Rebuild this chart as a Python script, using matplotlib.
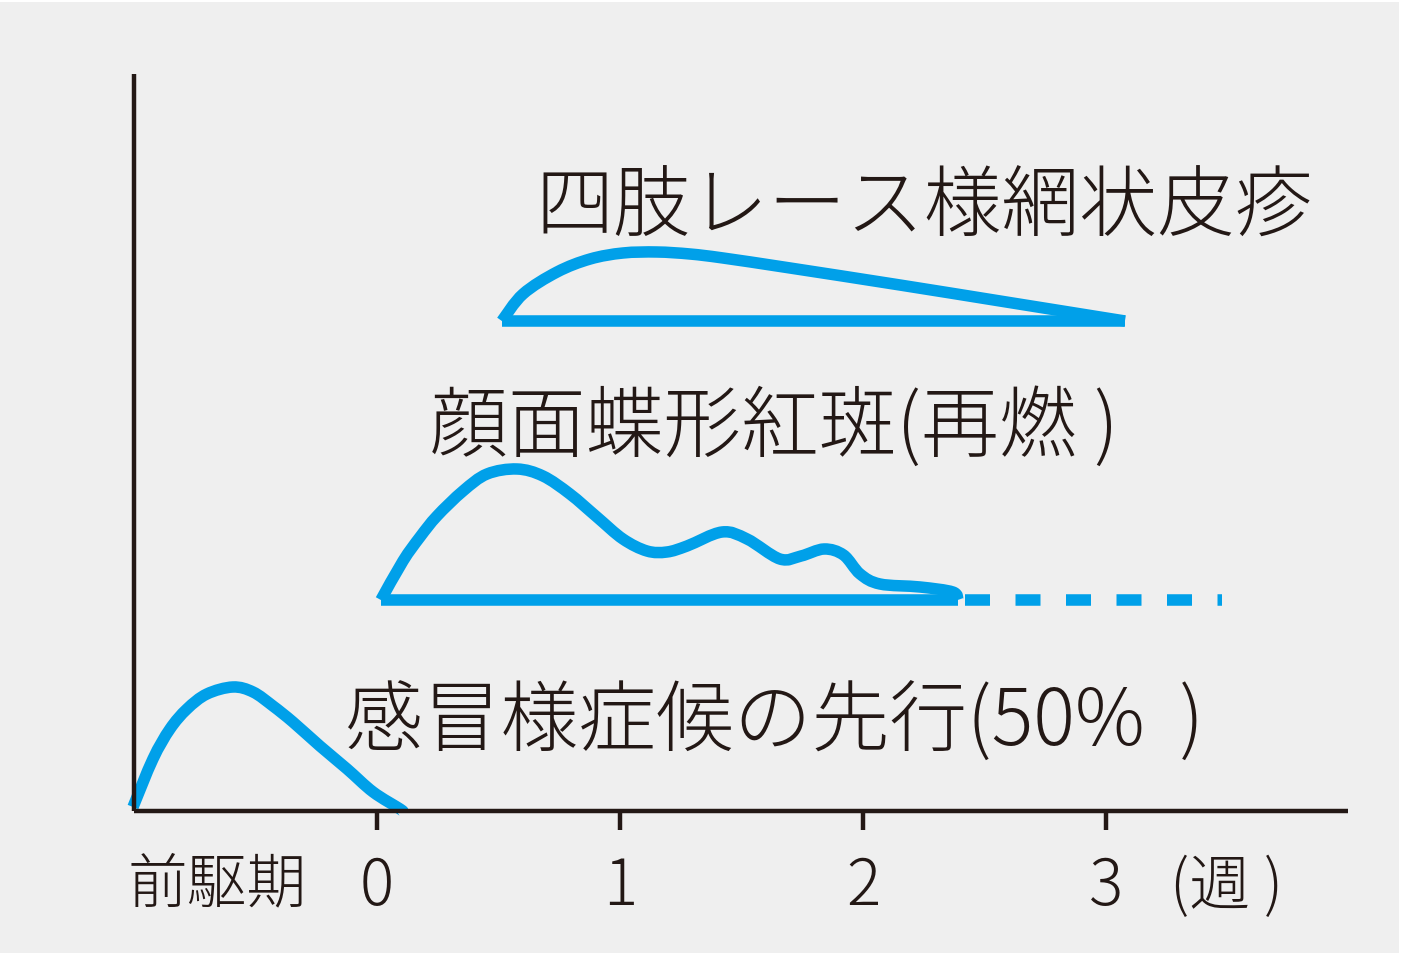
import matplotlib.pyplot as plt
from matplotlib.patches import Rectangle, PathPatch
from matplotlib.path import Path

plt.rcParams['font.family'] = ['Noto Sans CJK JP', 'DejaVu Sans']

#:::::::::::::::::::::::::::::::::::::::::::::::::::::::::::::::
#     :: Data :: (x in weeks, y = level in arbitrary units)

week_ticks = [0, 1, 2, 3]
week_labels = ['0', '1', '2', '3']

# prodromal cold-like symptoms
cold_x = [-1.004, -0.922, -0.852, -0.782, -0.700, -0.593, -0.510, -0.428,
          -0.346, -0.235, -0.123, -0.016, 0.095, 0.107]
cold_y = [4, 52, 82, 102, 117, 124, 119, 105, 89, 65, 42, 19, 2, -1]

# facial butterfly rash (relapse)
face_x = [0.016, 0.107, 0.177, 0.247, 0.354, 0.453, 0.576, 0.683, 0.794,
          0.905, 1.012, 1.111, 1.193, 1.276, 1.420, 1.523, 1.658, 1.745,
          1.840, 1.920, 1.988, 2.070, 2.235, 2.370, 2.390]
face_y = [211, 250, 274, 295, 320, 337, 342, 335, 317, 294, 272, 260, 259,
          265, 279, 272, 252, 255, 262, 256, 237, 227, 224, 219, 211]
face_base_x = [0.016, 2.39]
face_tail_x = [2.42, 3.477]
face_base_y = 211

# lace-like reticular rash on the limbs
limb_x = [0.514, 0.601, 0.741, 0.877, 1.012, 1.152, 1.288, 1.424,
          1.700, 2.152, 2.564, 2.975, 3.078]
limb_y = [490, 517, 539, 552, 558, 559, 557, 553, 543, 526, 510, 494, 490]
limb_base_x = [0.514, 3.078]
limb_base_y = 490

label_limb = '四肢レース様網状皮疹'
label_face = '顔面蝶形紅斑(再燃 )'
label_cold = '感冒様症候の先行(50%  )'
label_pro = '前駆期'
label_unit = '(週 )'

#:::::::::::::::::::::::::::::::::::::::::::::::::::::::::::::::
#     :: Plot ::

BLUE = '#00a0e9'
INK = '#231815'
LW = 8.3


def smooth_line(ax, xs, ys, **kw):
    # Catmull-Rom through the read points, drawn as cubic bezier pieces
    pts = list(zip(xs, ys))
    verts = [pts[0]]
    codes = [Path.MOVETO]
    n = len(pts)
    for i in range(n - 1):
        p0 = pts[max(i - 1, 0)]
        p1 = pts[i]
        p2 = pts[i + 1]
        p3 = pts[min(i + 2, n - 1)]
        c1 = (p1[0] + (p2[0] - p0[0]) / 6, p1[1] + (p2[1] - p0[1]) / 6)
        c2 = (p2[0] - (p3[0] - p1[0]) / 6, p2[1] - (p3[1] - p1[1]) / 6)
        verts += [c1, c2, p2]
        codes += [Path.CURVE4] * 3
    patch = PathPatch(Path(verts, codes), facecolor='none', edgecolor=BLUE,
                      lw=LW, capstyle='butt', joinstyle='round', **kw)
    ax.add_patch(patch)


fig = plt.figure(figsize=(14.05, 9.54), dpi=100, facecolor='white')
fig.add_artist(Rectangle((0.0, 0.0), 0.996, 0.997, transform=fig.transFigure,
                         facecolor='#efefef', edgecolor='none', zorder=-10))
ax = fig.add_axes([0, 0, 1, 1])
ax.set_xlim(-1.5514, 4.2305)
ax.set_ylim(-142, 812)
ax.axis('off')

# axes drawn by hand
ax.plot([-1.0, -1.0], [0, 737], color=INK, lw=3.2, solid_capstyle='butt')
ax.plot([-1.0, 3.996], [0, 0], color=INK, lw=3.2, solid_capstyle='butt')
for t, lab in zip(week_ticks, week_labels):
    ax.plot([t, t], [0, -19], color=INK, lw=3.2, solid_capstyle='butt')
    ax.text(t, -76, lab, ha='center', va='center', fontsize=46, color=INK,
            fontweight='light')
ax.text(-1.025, -74, label_pro, ha='left', va='center', fontsize=43, color=INK,
        fontweight='light')
ax.text(3.265, -76, label_unit, ha='left', va='center', fontsize=44, color=INK,
        fontweight='light')

# curves
smooth_line(ax, cold_x, cold_y)

smooth_line(ax, face_x, face_y)
ax.plot(face_base_x, [face_base_y] * 2, color=BLUE, lw=LW, solid_capstyle='butt')
ax.plot(face_tail_x, [face_base_y] * 2, color=BLUE, lw=LW,
        linestyle=(0, (25 * 0.72 / LW, 25.5 * 0.72 / LW)), dash_capstyle='butt')

smooth_line(ax, limb_x, limb_y)
ax.plot(limb_base_x, [limb_base_y] * 2, color=BLUE, lw=LW, solid_capstyle='butt')

# labels
ax.text(0.650, 603, label_limb, ha='left', va='center', fontsize=56, color=INK,
        fontweight='light')
ax.text(0.218, 383, label_face, ha='left', va='center', fontsize=56, color=INK,
        fontweight='light')
ax.text(-0.132, 88, label_cold, ha='left', va='center', fontsize=56, color=INK,
        fontweight='light')

plt.savefig('out.png', dpi=100, facecolor=fig.get_facecolor())
